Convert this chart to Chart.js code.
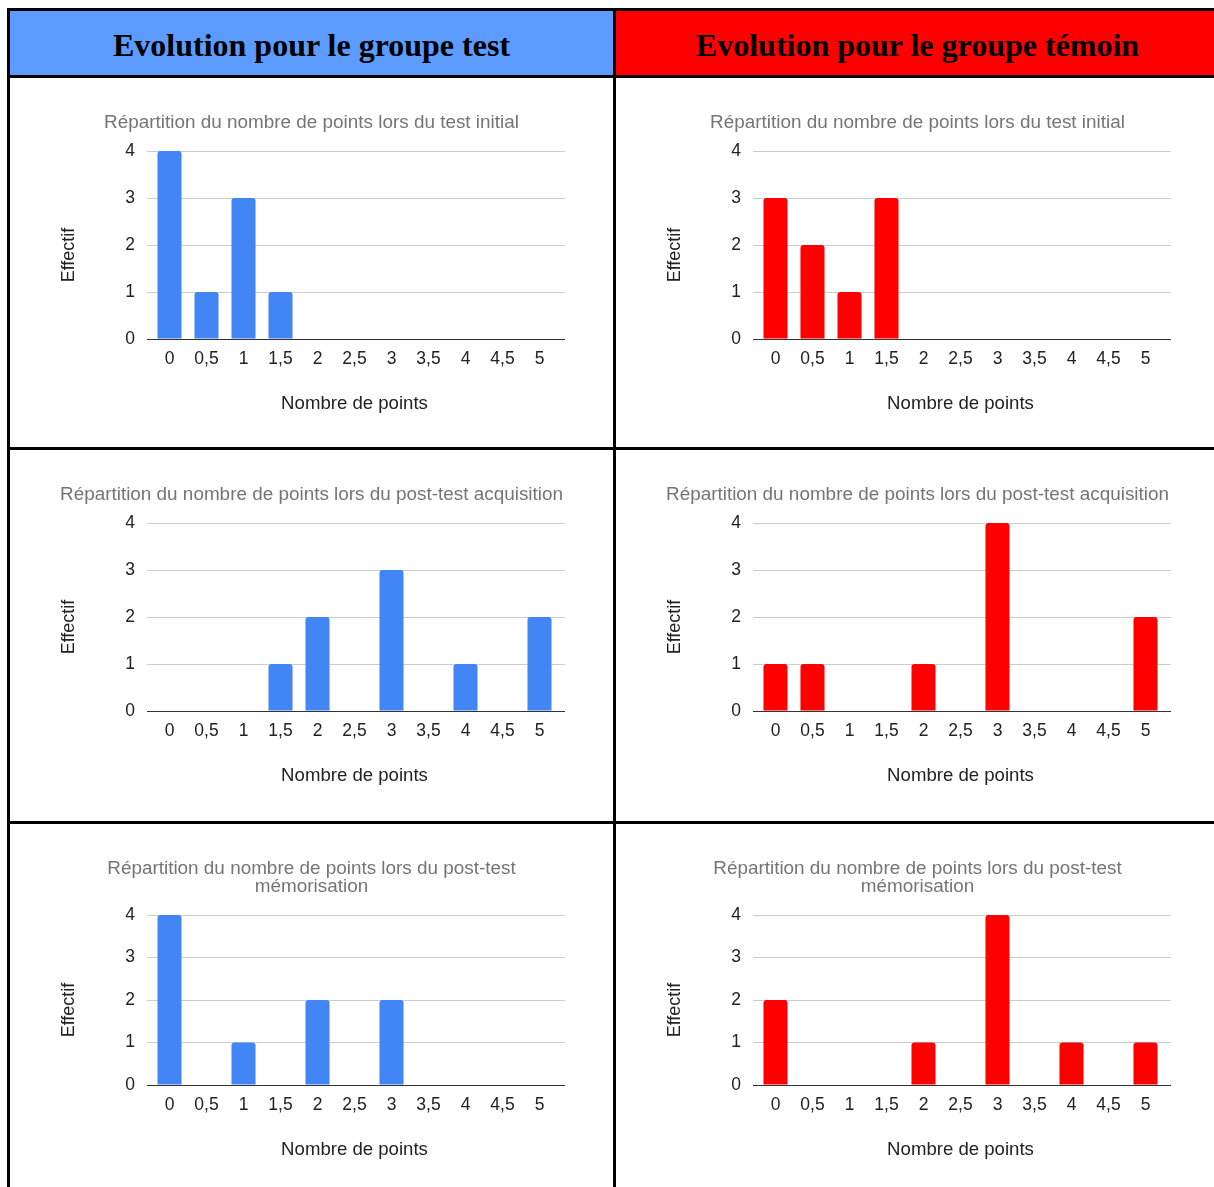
<!DOCTYPE html>
<html>
<head>
<meta charset="utf-8">
<script src="https://cdn.jsdelivr.net/npm/chart.js@4.4.1/dist/chart.umd.min.js"></script>
<style>
  html, body { margin: 0; padding: 0; background: #fff; width: 1214px; height: 1187px; overflow: hidden; }
  .line { position: absolute; background: #000; z-index: 5; }
  .head { position: absolute; display: flex; align-items: center; justify-content: center; box-sizing: border-box; padding-top: 4px;
          font-family: "Liberation Serif", "Times New Roman", serif; font-weight: bold; font-size: 32px; color: #000; }
  canvas { position: absolute; }
</style>
</head>
<body>
<div class="head" style="left:10px;top:11px;width:603px;height:64px;background:#5C9BFF;">Evolution pour le groupe test</div>
<div class="head" style="left:616px;top:11px;width:603px;height:64px;background:#FF0000;">Evolution pour le groupe témoin</div>

<div class="line" style="left:7px;top:8px;width:1220px;height:3px;"></div>
<div class="line" style="left:7px;top:75px;width:1220px;height:3px;"></div>
<div class="line" style="left:7px;top:447px;width:1220px;height:3px;"></div>
<div class="line" style="left:7px;top:821px;width:1220px;height:3px;"></div>
<div class="line" style="left:7px;top:8px;width:3px;height:1200px;"></div>
<div class="line" style="left:613px;top:8px;width:3px;height:1200px;"></div>

<canvas id="c1" width="603" height="370" style="left:10px;top:78px;"></canvas>
<canvas id="c2" width="603" height="370" style="left:616px;top:78px;"></canvas>
<canvas id="c3" width="603" height="370" style="left:10px;top:450px;"></canvas>
<canvas id="c4" width="603" height="370" style="left:616px;top:450px;"></canvas>
<canvas id="c5" width="603" height="370" style="left:10px;top:824px;"></canvas>
<canvas id="c6" width="603" height="370" style="left:616px;top:824px;"></canvas>

<script>
const categories = ['0', '0,5', '1', '1,5', '2', '2,5', '3', '3,5', '4', '4,5', '5'];
const yTicks = [0, 1, 2, 3, 4];

const testInitial        = [4, 1, 3, 1, 0, 0, 0, 0, 0, 0, 0];
const temoinInitial      = [3, 2, 1, 3, 0, 0, 0, 0, 0, 0, 0];
const testAcquisition    = [0, 0, 0, 1, 2, 0, 3, 0, 1, 0, 2];
const temoinAcquisition  = [1, 1, 0, 0, 1, 0, 4, 0, 0, 0, 2];
const testMemorisation   = [4, 0, 1, 0, 2, 0, 2, 0, 0, 0, 0];
const temoinMemorisation = [2, 0, 0, 0, 1, 0, 4, 0, 1, 0, 1];

const titleInitial = 'Répartition du nombre de points lors du test initial';
const titleAcquisition = 'Répartition du nombre de points lors du post-test acquisition';
const titleMemorisation = ['Répartition du nombre de points lors du post-test', 'mémorisation'];
const xTitle = 'Nombre de points';
const yTitle = 'Effectif';

const blue = '#4285F4';
const red = '#FF0000';
const FONT = '"Liberation Sans", Arial, sans-serif';

function gridColor(ctx) {
  return (ctx.tick && ctx.tick.value === 0) ? '#333333' : '#CCCCCC';
}

function makeChart(id, title, data, color) {
  new Chart(document.getElementById(id), {
    type: 'bar',
    data: {
      labels: categories,
      datasets: [{
        data: data,
        backgroundColor: color,
        borderWidth: 0,
        borderRadius: 3,
        categoryPercentage: 1,
        barPercentage: 0.65
      }]
    },
    options: {
      responsive: false,
      animation: false,
      devicePixelRatio: 1,
      layout: { padding: 0 },
      plugins: {
        legend: { display: false },
        tooltip: { enabled: false },
        title: {
          display: true,
          text: title,
          color: '#757575',
          font: { family: FONT, size: 18.9, weight: 'normal', lineHeight: '18px' },
          padding: { top: 36, bottom: 19 }
        }
      },
      scales: {
        x: {
          type: 'category',
          grid: { display: false, drawTicks: false },
          border: { display: true, color: '#333333', width: 1 },
          ticks: { color: '#222222', font: { family: FONT, size: 17.5 }, padding: 9.5, autoSkip: false, maxRotation: 0 },
          title: { display: true, text: xTitle, color: '#222222', font: { family: FONT, size: 18.6, lineHeight: 1.2 }, padding: { top: 0, bottom: 33 } },
          afterFit: (s) => { s.height = 109; }
        },
        y: {
          min: 0,
          max: 4,
          afterBuildTicks: (s) => { s.ticks = yTicks.map(v => ({ value: v })); },
          grid: { color: gridColor, lineWidth: 1, drawTicks: true, tickLength: 4 },
          border: { display: false },
          ticks: { color: '#222222', font: { family: FONT, size: 17.5 }, padding: 12 },
          title: { display: true, text: yTitle + '    ', color: '#222222', font: { family: FONT, size: 18, lineHeight: 1.2 }, padding: { top: 48, bottom: 0 } },
          afterFit: (s) => { s.width = 141; }
        },
        yRight: {
          position: 'right',
          min: 0,
          max: 4,
          afterBuildTicks: (s) => { s.ticks = yTicks.map(v => ({ value: v })); },
          grid: { color: gridColor, lineWidth: 1, drawTicks: true, tickLength: 7 },
          border: { display: false },
          ticks: { display: false },
          afterFit: (s) => { s.width = 55; }
        }
      }
    }
  });
}

makeChart('c1', titleInitial, testInitial, blue);
makeChart('c2', titleInitial, temoinInitial, red);
makeChart('c3', titleAcquisition, testAcquisition, blue);
makeChart('c4', titleAcquisition, temoinAcquisition, red);
makeChart('c5', titleMemorisation, testMemorisation, blue);
makeChart('c6', titleMemorisation, temoinMemorisation, red);
</script>
</body>
</html>
